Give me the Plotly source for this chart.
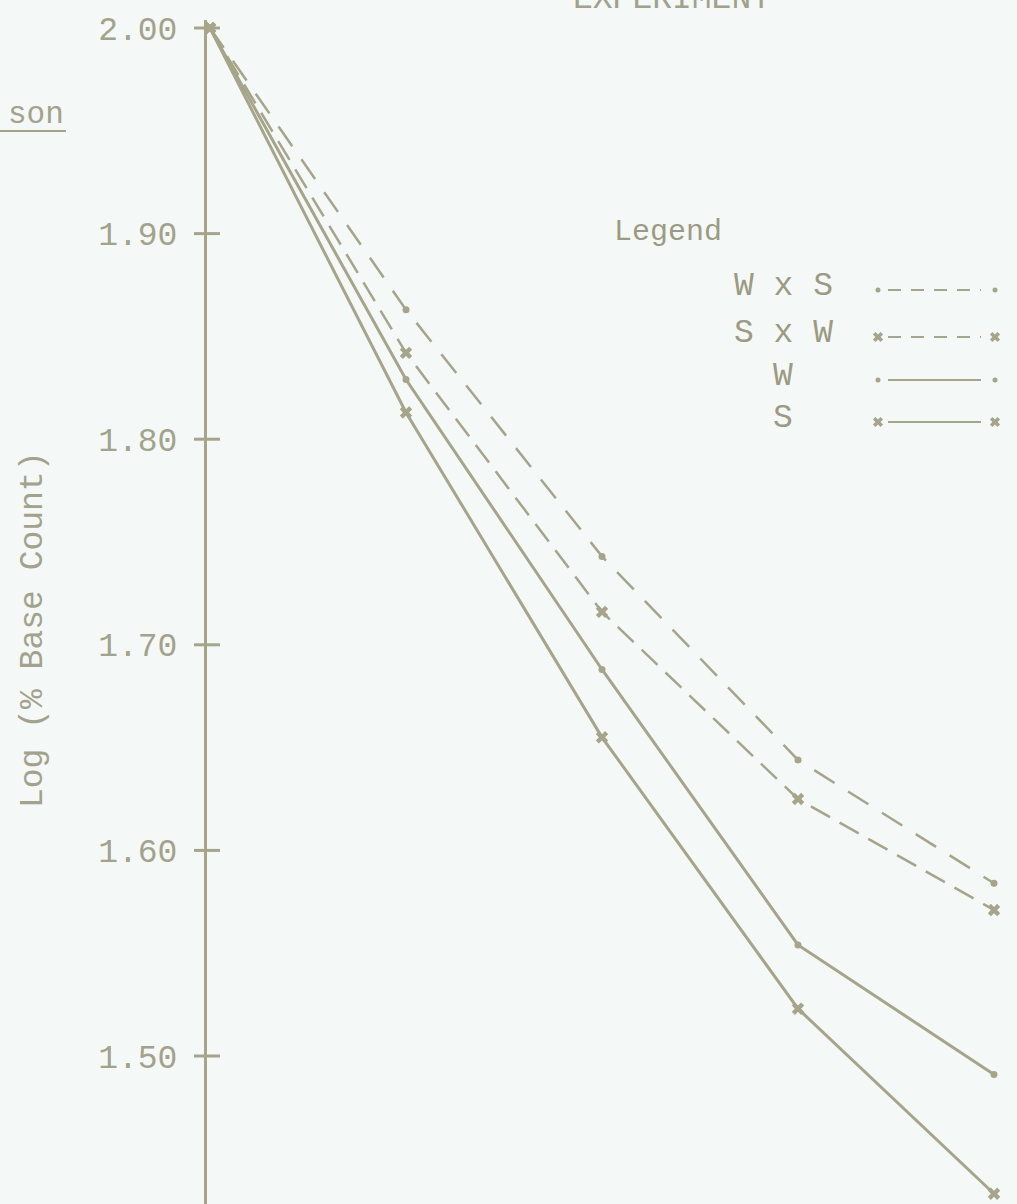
import plotly.graph_objects as go

# Sampling points along the horizontal (equally spaced intervals)
sampling_points = [0, 1, 2, 3, 4]

# Log of percent base count for each cross / strain
w_x_s = [2.00, 1.863, 1.743, 1.644, 1.584]
s_x_w = [2.00, 1.842, 1.716, 1.625, 1.571]
w_only = [2.00, 1.829, 1.688, 1.554, 1.491]
s_only = [2.00, 1.813, 1.655, 1.523, 1.433]

series_names = ["W x S", "S x W", "W", "S"]
tick_values = [2.00, 1.90, 1.80, 1.70, 1.60, 1.50]

INK = "#a6a489"
TEXT = "#a3a28a"
BG = "#f4f9f8"
FONT = "Liberation Mono"

W, H = 1017, 1204
L, T, R, B = 207, 20, 0, 0
PW, PH = W - L - R, H - T - B
PX_PER_UNIT_Y = 2056
Y_TOP_VALUE_PX = 28  # page row of the 2.00 tick


def px_x(x):
    return (x - L) / PW


def px_y(y):
    return 1 - (y - T) / PH


styles = {
    "W x S": dict(dash="24px,16px", symbol="circle", msize=7, width=2.5),
    "S x W": dict(dash="22px,11px", symbol="x", msize=11, width=2.5),
    "W": dict(dash="solid", symbol="circle", msize=7, width=3),
    "S": dict(dash="solid", symbol="x", msize=11, width=3),
}
values = {"W x S": w_x_s, "S x W": s_x_w, "W": w_only, "S": s_only}

fig = go.Figure()
for name in series_names:
    st = styles[name]
    fig.add_trace(go.Scatter(
        x=sampling_points, y=values[name], mode="lines+markers", name=name,
        line=dict(color=INK, width=st["width"], dash=st["dash"]),
        marker=dict(symbol=st["symbol"], size=st["msize"], color=INK,
                    line=dict(width=0)),
        showlegend=False, cliponaxis=False,
    ))

# Hand-built key on an overlay axis measured in page pixels
legend_rows_y = [286, 333, 376, 418]
key_x0, key_x1 = 878, 995
for name, ry in zip(series_names, legend_rows_y):
    st = styles[name]
    sy = ry + 4
    fig.add_trace(go.Scatter(
        x=[key_x0 + 10, key_x1 - 14], y=[sy, sy], mode="lines",
        line=dict(color=INK, width=2.2, dash="13px,10px" if st["dash"] != "solid" else "solid"),
        xaxis="x2", yaxis="y2", showlegend=False, hoverinfo="skip",
    ))
    fig.add_trace(go.Scatter(
        x=[key_x0, key_x1], y=[sy, sy], mode="markers",
        marker=dict(symbol=st["symbol"], size=st["msize"] - 2, color=INK, line=dict(width=0)),
        xaxis="x2", yaxis="y2", showlegend=False, hoverinfo="skip",
    ))


def note(text, x, y, size, color=TEXT, xanchor="center", yanchor="middle", **kw):
    return dict(text=text, x=px_x(x), y=px_y(y), xref="paper", yref="paper",
                xanchor=xanchor, yanchor=yanchor, showarrow=False,
                font=dict(family=FONT, size=size, color=color), **kw)


legend_labels = ["W x S", "S x W", "W", "S"]
annotations = [note("Legend", 668, 232, 30, color="#9c9b82")]
for lab, ry in zip(legend_labels, legend_rows_y):
    annotations.append(note(lab, 783, ry, 33, color="#9c9b82"))

annotations += [
    note("Log (% Base Count)", 33, 630, 33, textangle=-90),
    note("EXPERIMENT", 672, 20, 33, color="#a2a18b", yanchor="bottom"),
    note("son", 66, 114, 31, xanchor="right"),
]

shapes = [
    dict(type="line", xref="paper", yref="paper", x0=px_x(0), x1=px_x(66),
         y0=px_y(131), y1=px_y(131), line=dict(color=TEXT, width=2)),
]
# Cross-shaped ticks straddling the vertical axis
for v in tick_values:
    shapes.append(dict(type="line", xref="paper", yref="y", x0=-13 / PW, x1=13 / PW,
                       y0=v, y1=v, line=dict(color=INK, width=3)))

y_hi = 2.0 + (Y_TOP_VALUE_PX - T) / PX_PER_UNIT_Y
y_lo = 2.0 - (H - Y_TOP_VALUE_PX) / PX_PER_UNIT_Y

fig.update_layout(
    width=W, height=H, margin=dict(l=L, r=R, t=T, b=B),
    paper_bgcolor=BG, plot_bgcolor=BG,
    xaxis=dict(range=[-3 / 196, (PW - 3) / 196], visible=False),
    yaxis=dict(range=[y_lo, y_hi], autorange=False, tickvals=tick_values,
               ticktext=[f"{v:.2f}" for v in tick_values],
               ticks="", showgrid=False, zeroline=False,
               showline=True, linewidth=3, linecolor=INK,
               ticklabelstandoff=20,
               tickfont=dict(family=FONT, size=33, color=TEXT)),
    xaxis2=dict(range=[L, W], domain=[0, 1], anchor="y2", overlaying="x", visible=False),
    yaxis2=dict(range=[H, T], domain=[0, 1], anchor="x2", overlaying="y", visible=False),
    annotations=annotations, shapes=shapes,
)

fig.write_html("out.html")
